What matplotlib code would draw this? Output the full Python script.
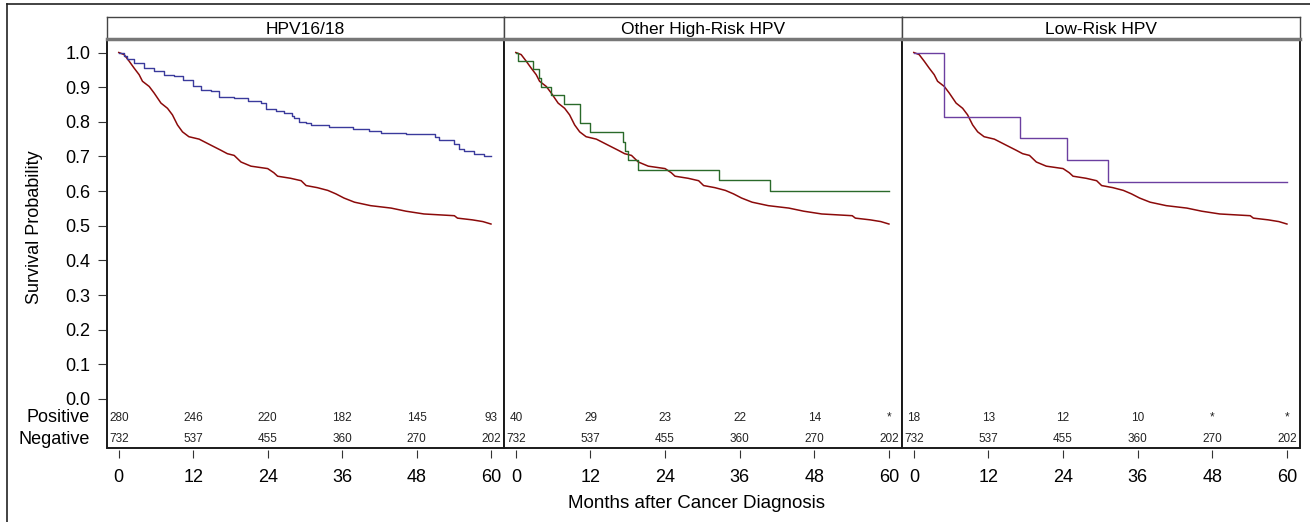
import matplotlib
matplotlib.use("Agg")
import matplotlib.pyplot as plt
from matplotlib.patches import Rectangle
from matplotlib.lines import Line2D
from matplotlib.transforms import blended_transform_factory

plt.rcParams['font.family'] = ['Liberation Sans', 'DejaVu Sans']

# HPV-negative curve (same in every panel)
neg_t = [0, 0.86, 1.67, 2.47, 3.28, 3.82, 4.9, 5.7, 6.8, 7.85, 8.65, 9.46, 10.27, 11.3,
         12.95, 14.8, 16.45, 17.5, 18.6, 19.7, 21.3, 24.0, 25.0, 25.6, 27.7, 29.4, 30.2,
         32.0, 33.7, 35.0, 36.3, 38.0, 40.6, 43.9, 46.3, 49.2, 54.1, 54.6, 57.0, 58.7, 60]
neg_s = [1.0, 0.994, 0.975, 0.955, 0.936, 0.917, 0.902, 0.883, 0.854, 0.839, 0.820, 0.791,
         0.771, 0.757, 0.750, 0.733, 0.718, 0.708, 0.703, 0.684, 0.672, 0.665, 0.653, 0.643,
         0.637, 0.630, 0.616, 0.610, 0.602, 0.592, 0.580, 0.568, 0.558, 0.551, 0.542, 0.534,
         0.529, 0.522, 0.517, 0.512, 0.505]

# HPV16/18 positive
hpv16_t = [0, 0.9, 1.4, 2.5, 4.1, 5.7, 7.3, 8.9, 10.3, 11.9, 13.2, 14.8, 16.2, 18.6, 20.8,
           22.9, 23.7, 25.3, 26.7, 28.0, 28.3, 29.1, 30.2, 31.0, 33.9, 37.7, 40.4, 42.3,
           46.3, 50.9, 51.7, 54.1, 54.9, 55.7, 57.3, 58.9, 60]
hpv16_s = [1.0, 0.99, 0.980, 0.970, 0.955, 0.946, 0.936, 0.931, 0.922, 0.902, 0.892, 0.888,
           0.873, 0.870, 0.860, 0.854, 0.836, 0.831, 0.825, 0.818, 0.810, 0.800, 0.796,
           0.792, 0.784, 0.778, 0.773, 0.768, 0.765, 0.757, 0.747, 0.735, 0.721, 0.716,
           0.708, 0.701, 0.701]

# other high-risk positive
ohr_t = [0, 0.4, 2.8, 3.8, 4.1, 5.6, 7.7, 10.4, 11.9, 17.3, 17.6, 18.1, 19.7, 32.7, 40.8, 60]
ohr_s = [1.0, 0.975, 0.951, 0.926, 0.900, 0.876, 0.850, 0.798, 0.771, 0.743, 0.715, 0.689,
         0.660, 0.633, 0.599, 0.599]

# low-risk positive
lr_t = [0, 4.9, 17.0, 24.6, 31.2, 60]
lr_s = [1.0, 0.813, 0.752, 0.689, 0.626, 0.626]

titles = ['HPV16/18', 'Other High-Risk HPV', 'Low-Risk HPV']
risk_months = [0, 12, 24, 36, 48, 60]
pos_hpv16 = ['280', '246', '220', '182', '145', '93']
pos_ohr = ['40', '29', '23', '22', '14', '*']
pos_lr = ['18', '13', '12', '10', '*', '*']
neg_risk = ['732', '537', '455', '360', '270', '202']
yticks = [0.0, 0.1, 0.2, 0.3, 0.4, 0.5, 0.6, 0.7, 0.8, 0.9, 1.0]

W, H = 1310, 522
def fx(x): return x / W
def fy(y): return 1 - y / H

fig = plt.figure(figsize=(W / 100, H / 100), dpi=100)

# outer frame (left and top only visible)
fig.add_artist(Line2D([fx(7), fx(7)], [fy(4), 0], color='#222', lw=1.2))
fig.add_artist(Line2D([fx(7), 1], [fy(4), fy(4)], color='#222', lw=1.2))

edges = [107, 504, 902, 1300]
panels = [
    (hpv16_t, hpv16_s, '#3a3a9c', pos_hpv16),
    (ohr_t, ohr_s, '#2a6a2a', pos_ohr),
    (lr_t, lr_s, '#6b3fa0', pos_lr),
]
row_pos, row_neg = -0.054, -0.116

for i, (t, s, col, pos_risk) in enumerate(panels):
    l, r = edges[i], edges[i + 1]
    ax = fig.add_axes([fx(l), fy(447.5), fx(r - l), (447.5 - 39) / H])
    ax.set_xlim(-1.9, 62.1)
    ax.set_ylim(-0.140, 1.039)
    for sp in ax.spines.values():
        sp.set_visible(False)
    ax.add_patch(Rectangle((0, 0), 1, 1, transform=ax.transAxes, fill=False,
                           ec='#1a1a1a', lw=1.4, clip_on=False, zorder=5))

    ax.plot(neg_t, neg_s, color='#8b0a0a', lw=1.1)
    ax.plot(t, s, color=col, lw=1.0, drawstyle='steps-post')

    ax.spines['bottom'].set_position(('outward', 2))
    ax.set_xticks(risk_months)
    ax.tick_params(axis='x', length=5.5, width=0.8, color='#333', pad=8, labelsize=13)
    if i == 0:
        ax.spines['left'].set_position(('outward', 1))
        ax.set_yticks(yticks)
        ax.set_yticklabels([f'{v:.1f}' for v in yticks])
        ax.tick_params(axis='y', length=5.8, width=0.8, color='#333', pad=5, labelsize=13)
        tr = blended_transform_factory(ax.transAxes, ax.transData)
        ax.text(-0.043, row_pos, 'Positive', transform=tr, ha='right', va='center', fontsize=13)
        ax.text(-0.043, row_neg, 'Negative', transform=tr, ha='right', va='center', fontsize=13)
    else:
        ax.set_yticks([])

    for m, p, n in zip(risk_months, pos_risk, neg_risk):
        ax.text(m, row_pos, p, ha='center', va='center', fontsize=8.5, color='#222')
        ax.text(m, row_neg, n, ha='center', va='center', fontsize=8.5, color='#222')

    # header strip
    hx = fig.add_axes([fx(l), fy(39), fx(r - l), 22 / H])
    hx.set_xticks([])
    hx.set_yticks([])
    for sp in hx.spines.values():
        sp.set_color('#444')
        sp.set_linewidth(1.0)
    hx.spines['bottom'].set_color('#777')
    hx.spines['bottom'].set_linewidth(2.5)
    hx.text(0.5, 0.45, titles[i], ha='center', va='center', fontsize=12.5,
            transform=hx.transAxes)

fig.text(fx(35), fy(227), 'Survival Probability', rotation=90, ha='center', va='center',
         fontsize=13)
fig.text(fx(696), fy(503), 'Months after Cancer Diagnosis', ha='center', va='center',
         fontsize=13.5)

fig.savefig('out.png', dpi=100)
